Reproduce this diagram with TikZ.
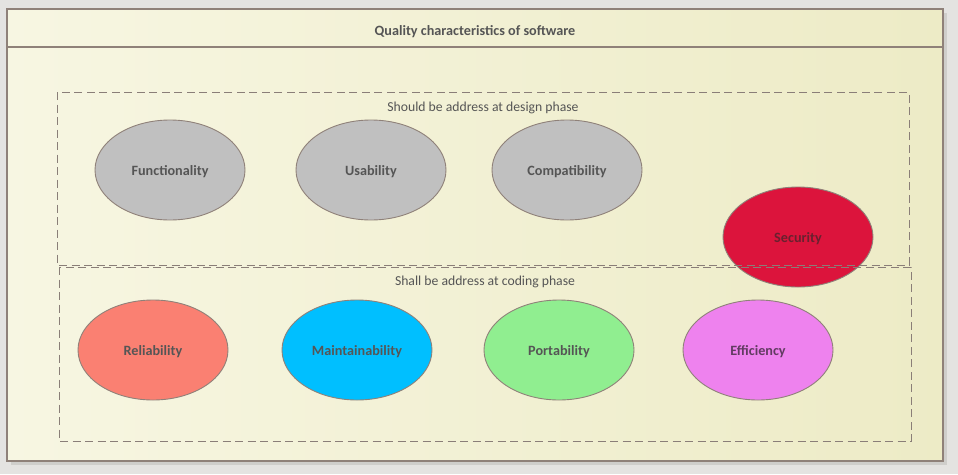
\documentclass[tikz,border=0pt]{standalone}
\usepackage{fontspec}
\setmainfont{Carlito}
\usetikzlibrary{shapes.geometric,positioning}
\definecolor{bgGray}{HTML}{E4E3E1}
\definecolor{shadowGray}{HTML}{CFCECB}
\definecolor{frameLine}{HTML}{8F8179}
\definecolor{creamL}{HTML}{F7F6E2}
\definecolor{creamR}{HTML}{EDEBC6}
\definecolor{txtGray}{HTML}{555555}
\definecolor{dashGray}{HTML}{8A7E78}
\definecolor{charGray}{HTML}{C0C0C0}
\definecolor{charSalmon}{HTML}{FA8072}
\definecolor{charSky}{HTML}{00BFFF}
\definecolor{charGreen}{HTML}{90EE90}
\definecolor{charViolet}{HTML}{EE82EE}
\definecolor{charCrimson}{HTML}{DC143C}
\tikzset{
  quality/.style={ellipse, draw=frameLine, line width=0.9pt, minimum width=150pt,
    minimum height=100pt, inner sep=0pt, font=\bfseries\fontsize{14.2}{16}\selectfont,
    text=txtGray, text height=11pt, text depth=0pt},
  phasebox/.style={draw=dashGray, dash pattern=on 8pt off 4.5pt, line width=1pt},
  phaselabel/.style={font=\fontsize{13.7}{16}\selectfont, text=txtGray,
    text height=11pt, text depth=0pt}
}
\begin{document}
\begin{tikzpicture}[x=1pt,y=-1pt]
  \useasboundingbox (0,0) rectangle (958,474);
  \fill[bgGray] (0,0) rectangle (958,474);
  % outer frame
  \fill[shadowGray] (11,13) rectangle (947,465);
  \shade[left color=creamL, right color=creamR] (7,9) rectangle (943,461);
  \draw[frameLine, line width=1.2pt] (7,9) rectangle (943,461);
  \draw[frameLine, line width=1.2pt] (7,47) -- (943,47);
  \node[font=\bfseries\fontsize{14.2}{16}\selectfont, text=txtGray,
    text height=11pt, text depth=0pt] (title) at (475,30) {Quality characteristics of software};

  % design phase
  \node[phaselabel] (design) at (483,106) {Should be address at design phase};
  \node[quality, fill=charGray] (func) at (170,170) {Functionality};
  \node[quality, fill=charGray] (usab) at (371,170) {Usability};
  \node[quality, fill=charGray] (comp) at (567,170) {Compatibility};
  \node[quality, fill=charCrimson, text=charCrimson!45!black!80!gray] (secu) at (798,237) {Security};

  % coding phase
  \node[phaselabel] (coding) at (485,280) {Shall be address at coding phase};
  \node[quality, fill=charSalmon] (reli) at (153,350) {Reliability};
  \node[quality, fill=charSky] (main) at (357,350) {Maintainability};
  \node[quality, fill=charGreen] (port) at (559,350) {Portability};
  \node[quality, fill=charViolet, text=txtGray!70!violet] (effi) at (758,350) {Efficiency};

  % phase boxes
  \draw[phasebox] (57,92) rectangle (909,265);
  \draw[phasebox] (59,267) rectangle (911,441);
\end{tikzpicture}
\end{document}
